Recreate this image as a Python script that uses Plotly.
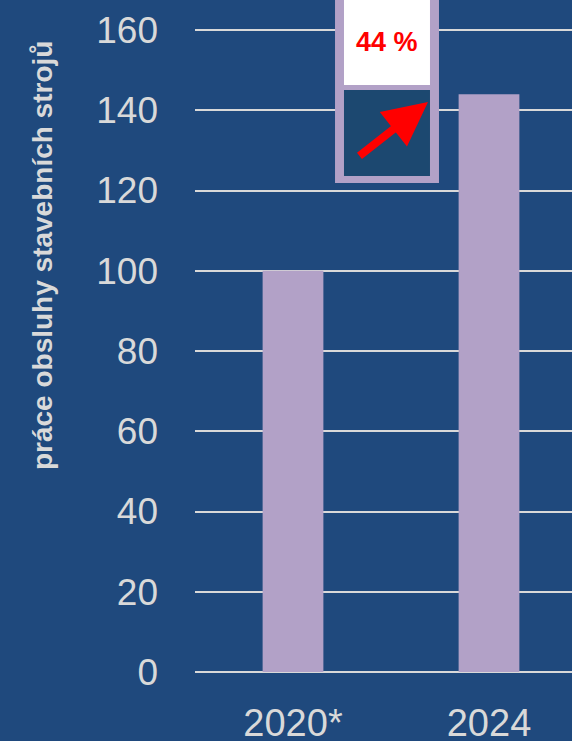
import plotly.graph_objects as go

categories = ["2020*", "2024"]
values = [100, 144]
tick_vals = [0, 20, 40, 60, 80, 100, 120, 140, 160]
y_title = "práce obsluhy stavebních strojů"

BG = "#1f497d"
BAR = "#b2a1c7"
GRID = "#d9d9d9"
INSET = "#1c4870"

change = round((values[1] - values[0]) / values[0] * 100)

fig = go.Figure(go.Bar(x=categories, y=values, marker_color=BAR, width=0.31,
                       marker_line_width=0))

fig.update_layout(
    width=572, height=741,
    margin=dict(l=195, r=0, t=28, b=67),
    paper_bgcolor=BG, plot_bgcolor=BG,
    showlegend=False,
    font=dict(family="Liberation Sans, Arial", color=GRID),
    xaxis=dict(range=[-0.5, 1.4235], showgrid=False, zeroline=False,
               tickfont=dict(size=38, color=GRID), ticks="", showline=False,
               ticklabelstandoff=23, automargin=False),
    yaxis=dict(range=[-0.5, 160.5], tickvals=tick_vals, showgrid=True,
               gridcolor=GRID, gridwidth=2, zeroline=False,
               tickfont=dict(size=37, color=GRID), ticklabelstandoff=36,
               automargin=False),
)

# inset box
fig.add_shape(type="rect", xref="paper", yref="paper",
              x0=0.3714, x1=0.6472, y0=0.760, y1=1.08,
              fillcolor=BAR, line_width=0, layer="above")
fig.add_shape(type="rect", xref="paper", yref="paper",
              x0=0.3952, x1=0.6233, y0=0.9118, y1=1.08,
              fillcolor="white", line_width=0, layer="above")
fig.add_shape(type="rect", xref="paper", yref="paper",
              x0=0.3952, x1=0.6233, y0=0.771, y1=0.904,
              fillcolor=INSET, line_width=0, layer="above")

fig.add_annotation(xref="paper", yref="paper", x=0.509, y=0.978,
                   xanchor="center", yanchor="middle",
                   text=f"<b>{change} %</b>", showarrow=False,
                   font=dict(size=27, color="red", family="Liberation Sans, Arial"))

fig.add_annotation(xref="paper", yref="paper", x=0.618, y=0.8854,
                   ax=-70, ay=55, text="", showarrow=True,
                   arrowhead=2, arrowsize=1.1, arrowwidth=8, arrowcolor="red")

fig.add_annotation(xref="paper", yref="paper", x=-0.4058, y=0.647,
                   xanchor="center", yanchor="middle",
                   text=f"<b>{y_title}</b>", textangle=-90, showarrow=False,
                   font=dict(size=28, color=GRID, family="Liberation Sans, Arial"))

fig.write_html("out.html")
